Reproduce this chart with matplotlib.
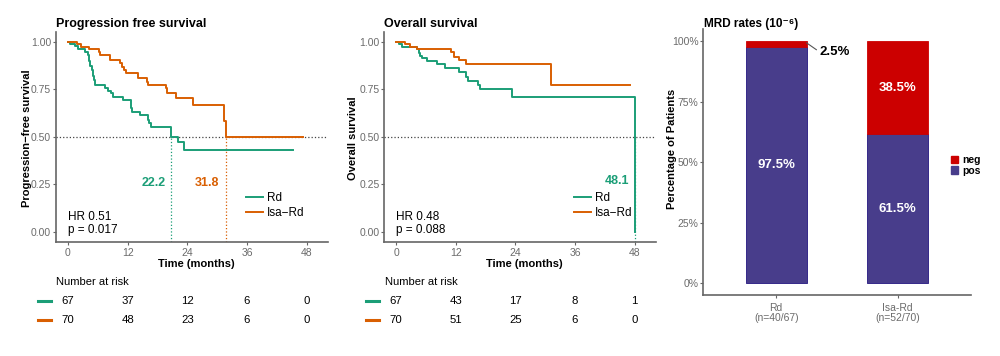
import numpy as np
import matplotlib
matplotlib.use("Agg")
import matplotlib.pyplot as plt
from matplotlib.transforms import blended_transform_factory
from matplotlib.patches import Patch
from matplotlib.lines import Line2D

plt.rcParams['font.family'] = ['Liberation Sans', 'DejaVu Sans']

# ---- data ----
# progression free survival (months, survival)
pfs_rd_t = [0, 0.34, 1.35, 2.0, 3.36, 4.0, 4.25, 4.5, 4.75, 5.0, 5.2, 5.4, 7.4, 8.1, 8.7, 9.0,
            11.07, 12.75, 12.9, 14.4, 16.1, 16.4, 16.8, 20.8, 22.1, 23.3, 45.3]
pfs_rd_s = [1.0, 0.99, 0.977, 0.963, 0.948, 0.93, 0.90, 0.87, 0.85, 0.82, 0.80, 0.772, 0.755, 0.74, 0.728, 0.711,
            0.693, 0.65, 0.632, 0.614, 0.59, 0.571, 0.553, 0.5, 0.474, 0.43, 0.43]
pfs_isa_t = [0, 1.8, 2.6, 4.3, 6.24, 6.5, 8.39, 10.5, 10.9, 11.3, 11.74, 14.1, 15.9, 16.1,
             19.66, 20.0, 21.8, 25.2, 31.3, 31.7, 47.2]
pfs_isa_s = [1.0, 0.986, 0.972, 0.963, 0.946, 0.928, 0.904, 0.886, 0.868, 0.851, 0.834, 0.811, 0.79, 0.772,
             0.755, 0.728, 0.702, 0.667, 0.583, 0.5, 0.5]

# overall survival
os_rd_t = [0, 0.47, 1.14, 4.16, 4.5, 4.83, 5.17, 6.18, 8.2, 9.87, 12.55, 14.1, 14.37, 16.4, 16.8, 23.3, 48.1]
os_rd_s = [1.0, 0.986, 0.974, 0.96, 0.939, 0.926, 0.912, 0.898, 0.881, 0.863, 0.842, 0.816, 0.795, 0.772, 0.751,
           0.711, 0.0]
os_isa_t = [0, 1.81, 2.82, 4.16, 11.0, 11.7, 12.55, 14.1, 31.2, 47.1]
os_isa_s = [1.0, 0.99, 0.974, 0.96, 0.944, 0.921, 0.904, 0.883, 0.772, 0.772]

pfs_medians = [20.8, 31.7]
pfs_median_labels = ["22.2", "31.8"]
os_medians = [48.1]
os_median_labels = ["48.1"]

risk_times = [0, 12, 24, 36, 48]
pfs_risk_rd = [67, 37, 12, 6, 0]
pfs_risk_isa = [70, 48, 23, 6, 0]
os_risk_rd = [67, 43, 17, 8, 1]
os_risk_isa = [70, 51, 25, 6, 0]

# MRD bars
mrd_groups = ["Rd\n(n=40/67)", "Isa-Rd\n(n=52/70)"]
mrd_pos = [97.5, 61.5]
mrd_neg = [2.5, 38.5]

GREEN = "#1B9E77"
ORANGE = "#D95F02"
RED = "#CC0000"
NAVY = "#483D8B"
TICK_GREY = "#6B6B6B"
AXIS_GREY = "#666666"

fig = plt.figure(figsize=(10, 3.56), dpi=100)


def style_axes(ax):
    for side in ["top", "right"]:
        ax.spines[side].set_visible(False)
    for side in ["left", "bottom"]:
        ax.spines[side].set_color(AXIS_GREY)
        ax.spines[side].set_linewidth(1.2)
    ax.tick_params(colors=AXIS_GREY, labelcolor=TICK_GREY, labelsize=7.5, length=2.5, width=0.8)
    ax.tick_params(axis="y", pad=1)
    ax.tick_params(axis="x", pad=2)


def km_panel(ax, title, ylabel, ylab_x, rd_t, rd_s, isa_t, isa_s, medians, med_labels, med_pos,
             hr_text, risk_rd, risk_isa):
    style_axes(ax)
    ax.set_xlim(-2.4, 52.3)
    ax.set_ylim(-0.054, 1.051)
    ax.set_xticks([0, 12, 24, 36, 48])
    ax.set_yticks([0, 0.25, 0.5, 0.75, 1.0])
    ax.set_yticklabels(["0.00", "0.25", "0.50", "0.75", "1.00"])

    ax.axhline(0.5, color="#444444", ls=":", lw=0.9)
    med_colors = [GREEN, ORANGE]
    for i, m in enumerate(medians):
        ax.plot([m, m], [-0.054, 0.5], ls=":", lw=0.9, color=med_colors[i])
    ax.step(rd_t, rd_s, where="post", color=GREEN, lw=1.4, label="Rd")
    ax.step(isa_t, isa_s, where="post", color=ORANGE, lw=1.4, label="Isa\u2212Rd")
    for i, lab in enumerate(med_labels):
        ax.text(med_pos[i][0], med_pos[i][1], lab, color=med_colors[i], fontsize=9,
                fontweight="bold", ha="center", va="center")

    ax.legend(loc="center left", bbox_to_anchor=(0.70, 0.175), frameon=False, fontsize=8.5,
              handlelength=1.4, handletextpad=0.35, labelspacing=0.25, borderpad=0, borderaxespad=0)
    ax.text(0, 0.044, hr_text, fontsize=8.5, ha="left", va="center", linespacing=1.1)

    pos = ax.get_position()
    fig.text(pos.x0, 1 - 24 / 356, title, fontsize=9, fontweight="bold", ha="left", va="center")
    fig.text(ylab_x, 1 - 138 / 356, ylabel, fontsize=8, fontweight="bold", rotation=90,
             ha="center", va="center")
    fig.text(pos.x0 + pos.width / 2 + 0.004, 1 - 264 / 356, "Time (months)", fontsize=8,
             fontweight="bold", ha="center", va="center")

    # number at risk table under the plot
    trans = blended_transform_factory(ax.transData, fig.transFigure)
    fig.text(-2.3, 1 - 281.7 / 356, "Number at risk", transform=trans, fontsize=8,
             ha="left", va="center")
    rows = [(risk_rd, GREEN, 1 - 301 / 356), (risk_isa, ORANGE, 1 - 320.4 / 356)]
    for counts, col, yy in rows:
        ax.add_line(Line2D([-6.1, -3.4], [yy, yy], transform=trans, color=col, lw=2.2,
                           clip_on=False))
        for t, n in zip(risk_times, counts):
            fig.text(t, yy, str(n), transform=trans, fontsize=8.2, ha="center", va="center")


ax_pfs = fig.add_axes([0.056, 0.320, 0.272, 0.590])
km_panel(ax_pfs, "Progression free survival", "Progression\u2212free survival", 0.027,
         pfs_rd_t, pfs_rd_s, pfs_isa_t, pfs_isa_s, pfs_medians, pfs_median_labels,
         [(17.2, 0.258), (27.9, 0.258)], "HR 0.51\np = 0.017", pfs_risk_rd, pfs_risk_isa)

ax_os = fig.add_axes([0.3843, 0.320, 0.2717, 0.590])
km_panel(ax_os, "Overall survival", "Overall survival", 0.3533,
         os_rd_t, os_rd_s, os_isa_t, os_isa_s, os_medians, os_median_labels,
         [(44.5, 0.267)], "HR 0.48\np = 0.088", os_risk_rd, os_risk_isa)

# ---- MRD stacked bars ----
ax_mrd = fig.add_axes([0.7033, 0.170, 0.2674, 0.749])
style_axes(ax_mrd)
x = np.arange(1, len(mrd_groups) + 1)
ax_mrd.bar(x, mrd_pos, 0.5, color=NAVY, edgecolor="#35298A", linewidth=0.7)
ax_mrd.bar(x, mrd_neg, 0.5, bottom=mrd_pos, color=RED, edgecolor=RED, linewidth=0.6)
ax_mrd.set_xlim(0.4, 2.6)
ax_mrd.set_ylim(-5, 105)
ax_mrd.set_yticks([0, 25, 50, 75, 100])
ax_mrd.set_yticklabels(["0%", "25%", "50%", "75%", "100%"])
ax_mrd.set_xticks(x)
ax_mrd.set_xticklabels(mrd_groups, linespacing=0.95)
ax_mrd.tick_params(axis="x", pad=3)

for i in range(len(x)):
    ax_mrd.text(x[i], mrd_pos[i] / 2, "%.1f%%" % mrd_pos[i], color="white", fontsize=9.5,
                fontweight="bold", ha="center", va="center")
ax_mrd.text(x[1], mrd_pos[1] + mrd_neg[1] / 2, "%.1f%%" % mrd_neg[1], color="white", fontsize=9.5,
            fontweight="bold", ha="center", va="center")
# small slice gets an outside label with a leader line
ax_mrd.plot([1.25, 1.33], [99.2, 96.4], color="#555555", lw=0.8)
ax_mrd.text(1.36, 95.5, "%.1f%%" % mrd_neg[0], color="black", fontsize=9.5, fontweight="bold",
            ha="left", va="center")

fig.text(0.704, 1 - 24 / 356, "MRD rates (10\u207b\u2076)", fontsize=8.5, fontweight="bold",
         ha="left", va="center")
fig.text(0.672, 1 - 149 / 356, "Percentage of Patients", fontsize=8, fontweight="bold",
         rotation=90, ha="center", va="center")

handles = [Patch(color=RED, label="neg"), Patch(color=NAVY, label="pos")]
fig.legend(handles=handles, loc="center left", bbox_to_anchor=(0.951, 1 - 165.5 / 356),
           frameon=False, prop={"weight": "bold", "size": 7.5}, handlelength=0.7,
           handleheight=0.7, handletextpad=0.35, labelspacing=0.05, borderpad=0, borderaxespad=0)

fig.savefig("out.png", dpi=100)
